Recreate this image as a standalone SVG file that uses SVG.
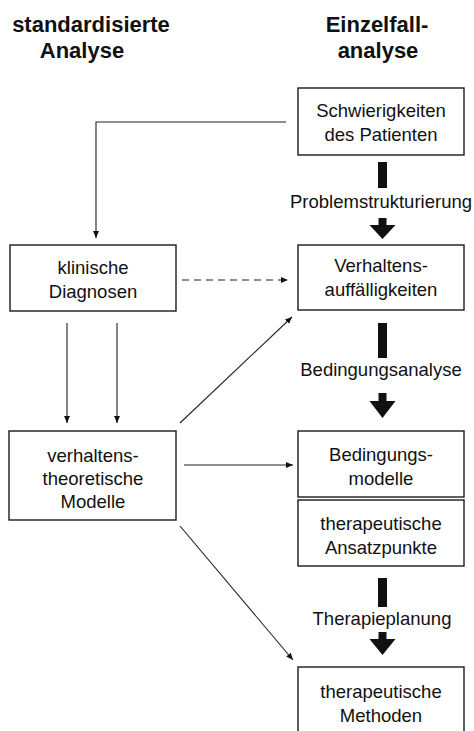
<svg xmlns="http://www.w3.org/2000/svg" width="474" height="731" viewBox="0 0 474 731">
<defs>
<style>
.bg{fill:#fff}
.box{fill:#fff;stroke:#1a1a1a;stroke-width:1.4}
.t{font-family:"Liberation Sans",Arial,Helvetica,sans-serif;font-size:18.5px;fill:#111;text-anchor:middle}
.h{font-family:"Liberation Sans",Arial,Helvetica,sans-serif;font-size:22px;font-weight:bold;fill:#111;text-anchor:middle}
.c{fill:none;stroke:#222;stroke-width:1.1}
.d{stroke-dasharray:7 5}
.thick{fill:#111}
</style>
<marker id="ah" markerUnits="userSpaceOnUse" markerWidth="8" markerHeight="7" refX="7" refY="3" orient="auto">
<path d="M0,0 L7,3 L0,6 z" fill="#111"/>
</marker>
</defs>
<rect class="bg" x="0" y="0" width="474" height="731"/>

<g id="titles">
<text class="h" x="91" y="32">standardisierte</text>
<text class="h" x="82" y="58">Analyse</text>
<text class="h" x="377" y="32">Einzelfall-</text>
<text class="h" x="378" y="58">analyse</text>
</g>

<g id="n-schwierigkeiten">
<rect class="box" x="298" y="88" width="166" height="67"/>
<text class="t" x="381" y="117">Schwierigkeiten</text>
<text class="t" x="381" y="141">des Patienten</text>
</g>

<g id="n-klinisch">
<rect class="box" x="10" y="245" width="166" height="66"/>
<text class="t" x="93" y="274">klinische</text>
<text class="t" x="93" y="298">Diagnosen</text>
</g>

<g id="n-verhaltensauff">
<rect class="box" x="298" y="245" width="166" height="65"/>
<text class="t" x="381" y="272">Verhaltens-</text>
<text class="t" x="381" y="296">auffälligkeiten</text>
</g>

<g id="n-modelle">
<rect class="box" x="9" y="431" width="167" height="89"/>
<text class="t" x="93" y="462">verhaltens-</text>
<text class="t" x="93" y="485">theoretische</text>
<text class="t" x="93" y="508">Modelle</text>
</g>

<g id="n-bedingungsmodelle">
<rect class="box" x="298" y="431" width="166" height="66"/>
<text class="t" x="381" y="461">Bedingungs-</text>
<text class="t" x="381" y="485">modelle</text>
</g>

<g id="n-ansatzpunkte">
<rect class="box" x="298" y="500" width="166" height="66"/>
<text class="t" x="381" y="530">therapeutische</text>
<text class="t" x="381" y="554">Ansatzpunkte</text>
</g>

<g id="n-methoden">
<rect class="box" x="298" y="667" width="166" height="72"/>
<text class="t" x="381" y="698">therapeutische</text>
<text class="t" x="381" y="722">Methoden</text>
</g>

<g id="connectors">
<polyline class="c" points="286,122 96,122 96,238" marker-end="url(#ah)"/>
<line class="c d" x1="182" y1="280" x2="288" y2="280" marker-end="url(#ah)"/>
<line class="c" x1="67" y1="323" x2="67" y2="423" marker-end="url(#ah)"/>
<line class="c" x1="117" y1="323" x2="117" y2="423" marker-end="url(#ah)"/>
<line class="c" x1="180" y1="423" x2="292" y2="317" marker-end="url(#ah)"/>
<line class="c" x1="184" y1="465" x2="293" y2="465" marker-end="url(#ah)"/>
<line class="c" x1="180" y1="526" x2="293" y2="660" marker-end="url(#ah)"/>

<rect class="thick" x="378" y="162" width="9" height="26"/>
<text class="t" x="381" y="208">Problemstrukturierung</text>
<path class="thick" d="M378.5,218 h8 v7 h9 l-13,14 l-13,-14 h9 z"/>

<rect class="thick" x="378" y="323" width="9" height="35"/>
<text class="t" x="381" y="376">Bedingungsanalyse</text>
<path class="thick" d="M378.5,393 h8 v8 h9 l-13,17 l-13,-17 h9 z"/>

<rect class="thick" x="378" y="578" width="9" height="29"/>
<text class="t" x="382" y="625">Therapieplanung</text>
<path class="thick" d="M378.5,632 h8 v7 h9 l-13,16 l-13,-16 h9 z"/>
</g>
</svg>
